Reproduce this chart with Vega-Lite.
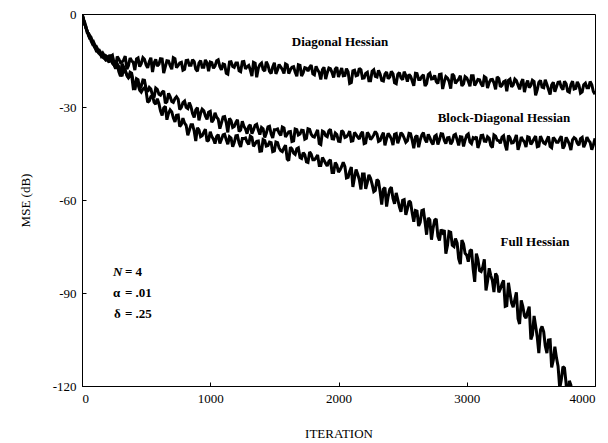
{
  "$schema": "https://vega.github.io/schema/vega-lite/v6.json",
  "width": 513,
  "height": 372,
  "autosize": {"type": "none"},
  "padding": {"left": 82, "top": 14, "right": 13, "bottom": 57},
  "background": "white",
  "config": {
    "font": "Liberation Serif",
    "view": {"stroke": "black", "strokeWidth": 1},
    "axis": {
      "grid": false,
      "domainColor": "black",
      "tickColor": "black",
      "labelColor": "black",
      "titleColor": "black",
      "labelFont": "Liberation Serif",
      "titleFont": "Liberation Serif",
      "labelFontSize": 13,
      "titleFontSize": 13,
      "titleFontWeight": "normal",
      "tickSize": -4,
      "labelPadding": 10
    }
  },
  "datasets": {
    "curves": [
      {"x":0,"D":0,"B":0,"F":0},
      {"x":10,"D":-1.6,"B":-1.2,"F":-1.9},
      {"x":20,"D":-2.8,"B":-3.4,"F":-2.5},
      {"x":30,"D":-4.6,"B":-3.9,"F":-4.2},
      {"x":40,"D":-5.3,"B":-6.0,"F":-5.6},
      {"x":50,"D":-6.9,"B":-6.2,"F":-6.6},
      {"x":60,"D":-7.6,"B":-6.9,"F":-7.9},
      {"x":70,"D":-7.5,"B":-8.6,"F":-8.0},
      {"x":80,"D":-8.6,"B":-9.5,"F":-9.1},
      {"x":90,"D":-10.1,"B":-9.0,"F":-9.6},
      {"x":100,"D":-10.8,"B":-10.0,"F":-10.6},
      {"x":112,"D":-10.5,"B":-11.6,"F":-11.9},
      {"x":125,"D":-11.6,"B":-12.3,"F":-11.9},
      {"x":137,"D":-12.9,"B":-11.8,"F":-12.4},
      {"x":150,"D":-13.3,"B":-12.7,"F":-13.6},
      {"x":162,"D":-12.6,"B":-14.0,"F":-13.0},
      {"x":175,"D":-13.5,"B":-14.4,"F":-13.9},
      {"x":187,"D":-14.8,"B":-13.5,"F":-14.9},
      {"x":200,"D":-14.6,"B":-13.9,"F":-14.8},
      {"x":225,"D":-13.7,"B":-13.6,"F":-13.6},
      {"x":250,"D":-16.0,"B":-16.5,"F":-16.5},
      {"x":275,"D":-13.7,"B":-16.1,"F":-16.3},
      {"x":300,"D":-15.7,"B":-20.1,"F":-19.2},
      {"x":325,"D":-14.8,"B":-17.0,"F":-17.4},
      {"x":350,"D":-17.8,"B":-19.5,"F":-19.9},
      {"x":375,"D":-14.2,"B":-18.8,"F":-19.9},
      {"x":400,"D":-15.6,"B":-22.0,"F":-24.0},
      {"x":425,"D":-14.5,"B":-20.9,"F":-21.4},
      {"x":450,"D":-17.0,"B":-24.2,"F":-24.6},
      {"x":475,"D":-14.1,"B":-21.3,"F":-24.2},
      {"x":500,"D":-16.4,"B":-24.1,"F":-24.9},
      {"x":525,"D":-15.3,"B":-23.7,"F":-28.0},
      {"x":550,"D":-18.7,"B":-26.3,"F":-26.3},
      {"x":575,"D":-14.6,"B":-23.9,"F":-29.1},
      {"x":600,"D":-16.2,"B":-25.9,"F":-28.9},
      {"x":625,"D":-14.5,"B":-25.2,"F":-32.7},
      {"x":650,"D":-17.0,"B":-28.8,"F":-29.8},
      {"x":675,"D":-15.2,"B":-25.6,"F":-32.0},
      {"x":700,"D":-17.8,"B":-28.2,"F":-31.6},
      {"x":725,"D":-14.4,"B":-27.3,"F":-34.8},
      {"x":750,"D":-16.6,"B":-27.5,"F":-32.6},
      {"x":775,"D":-15.6,"B":-30.1,"F":-35.6},
      {"x":800,"D":-17.8,"B":-28.1,"F":-35.2},
      {"x":825,"D":-14.9,"B":-30.5,"F":-39.1},
      {"x":850,"D":-16.5,"B":-30.0,"F":-35.7},
      {"x":875,"D":-15.4,"B":-33.4,"F":-37.8},
      {"x":900,"D":-18.5,"B":-30.2,"F":-36.7},
      {"x":925,"D":-15.0,"B":-32.0,"F":-39.6},
      {"x":950,"D":-17.2,"B":-31.2,"F":-38.1},
      {"x":975,"D":-15.8,"B":-34.0,"F":-41.1},
      {"x":1000,"D":-15.5,"B":-31.4,"F":-38.0},
      {"x":1025,"D":-17.5,"B":-34.1,"F":-40.4},
      {"x":1050,"D":-15.1,"B":-33.3,"F":-39.5},
      {"x":1075,"D":-17.0,"B":-37.0,"F":-41.8},
      {"x":1100,"D":-16.1,"B":-33.2,"F":-39.0},
      {"x":1125,"D":-19.1,"B":-35.1,"F":-40.6},
      {"x":1150,"D":-15.5,"B":-33.7,"F":-39.6},
      {"x":1175,"D":-16.9,"B":-36.6,"F":-42.8},
      {"x":1200,"D":-15.8,"B":-35.0,"F":-39.3},
      {"x":1225,"D":-18.3,"B":-37.9,"F":-41.6},
      {"x":1250,"D":-15.4,"B":-34.6,"F":-40.2},
      {"x":1275,"D":-17.7,"B":-37.1,"F":-40.0},
      {"x":1300,"D":-16.6,"B":-36.3,"F":-42.1},
      {"x":1325,"D":-20.0,"B":-38.6,"F":-39.8},
      {"x":1350,"D":-15.9,"B":-35.9,"F":-41.9},
      {"x":1375,"D":-17.5,"B":-37.5,"F":-41.0},
      {"x":1400,"D":-15.8,"B":-36.6,"F":-44.2},
      {"x":1425,"D":-18.4,"B":-39.8,"F":-40.8},
      {"x":1450,"D":-16.5,"B":-36.4,"F":-42.4},
      {"x":1475,"D":-19.2,"B":-38.7,"F":-41.5},
      {"x":1500,"D":-15.7,"B":-37.3,"F":-44.2},
      {"x":1525,"D":-18.0,"B":-37.1,"F":-41.5},
      {"x":1550,"D":-17.1,"B":-39.2,"F":-44.1},
      {"x":1575,"D":-19.2,"B":-36.8,"F":-43.2},
      {"x":1600,"D":-16.4,"B":-38.8,"F":-46.8},
      {"x":1625,"D":-18.0,"B":-37.9,"F":-43.0},
      {"x":1650,"D":-17.0,"B":-40.9,"F":-44.9},
      {"x":1675,"D":-20.1,"B":-37.3,"F":-43.5},
      {"x":1700,"D":-16.6,"B":-38.7,"F":-46.3},
      {"x":1725,"D":-18.9,"B":-37.6,"F":-44.7},
      {"x":1750,"D":-17.5,"B":-40.1,"F":-47.7},
      {"x":1775,"D":-17.2,"B":-37.2,"F":-44.5},
      {"x":1800,"D":-19.3,"B":-39.5,"F":-47.0},
      {"x":1825,"D":-16.9,"B":-38.5,"F":-46.4},
      {"x":1850,"D":-18.9,"B":-41.8,"F":-48.9},
      {"x":1875,"D":-17.9,"B":-37.8,"F":-46.3},
      {"x":1900,"D":-21.0,"B":-39.3,"F":-48.2},
      {"x":1925,"D":-17.4,"B":-37.7,"F":-47.5},
      {"x":1950,"D":-18.9,"B":-40.2,"F":-51.1},
      {"x":1975,"D":-17.7,"B":-38.4,"F":-47.9},
      {"x":2000,"D":-20.3,"B":-41.0,"F":-51.0},
      {"x":2025,"D":-17.4,"B":-37.6,"F":-49.2},
      {"x":2050,"D":-19.8,"B":-39.8,"F":-49.2},
      {"x":2075,"D":-18.7,"B":-38.9,"F":-52.7},
      {"x":2100,"D":-22.1,"B":-41.0,"F":-49.4},
      {"x":2125,"D":-18.1,"B":-38.2,"F":-52.7},
      {"x":2150,"D":-19.7,"B":-39.7,"F":-51.7},
      {"x":2175,"D":-18.0,"B":-38.7,"F":-56.6},
      {"x":2200,"D":-20.6,"B":-41.8,"F":-51.6},
      {"x":2225,"D":-18.8,"B":-38.2,"F":-54.3},
      {"x":2250,"D":-21.5,"B":-40.5,"F":-53.0},
      {"x":2275,"D":-18.0,"B":-39.0,"F":-57.3},
      {"x":2300,"D":-20.3,"B":-38.7,"F":-53.4},
      {"x":2325,"D":-19.4,"B":-40.8,"F":-57.5},
      {"x":2350,"D":-21.6,"B":-38.3,"F":-56.5},
      {"x":2375,"D":-18.7,"B":-40.2,"F":-62.1},
      {"x":2400,"D":-20.3,"B":-39.3,"F":-56.5},
      {"x":2425,"D":-19.3,"B":-42.3,"F":-59.5},
      {"x":2450,"D":-22.5,"B":-38.6,"F":-57.7},
      {"x":2475,"D":-18.9,"B":-40.1,"F":-62.2},
      {"x":2500,"D":-21.2,"B":-38.9,"F":-60.1},
      {"x":2525,"D":-19.8,"B":-41.4,"F":-64.8},
      {"x":2550,"D":-19.5,"B":-38.5,"F":-60.3},
      {"x":2575,"D":-21.6,"B":-40.8,"F":-64.3},
      {"x":2600,"D":-19.1,"B":-39.7,"F":-63.4},
      {"x":2625,"D":-21.1,"B":-43.0,"F":-68.4},
      {"x":2650,"D":-20.1,"B":-39.0,"F":-63.4},
      {"x":2675,"D":-23.2,"B":-40.5,"F":-67.2},
      {"x":2700,"D":-19.5,"B":-38.8,"F":-65.8},
      {"x":2725,"D":-21.0,"B":-41.3,"F":-72.8},
      {"x":2750,"D":-19.8,"B":-39.5,"F":-66.5},
      {"x":2775,"D":-22.4,"B":-42.1,"F":-71.7},
      {"x":2800,"D":-19.4,"B":-38.6,"F":-69.5},
      {"x":2825,"D":-21.8,"B":-40.8,"F":-69.7},
      {"x":2850,"D":-20.7,"B":-39.9,"F":-74.6},
      {"x":2875,"D":-24.1,"B":-42.0,"F":-70.4},
      {"x":2900,"D":-20.0,"B":-39.1,"F":-75.0},
      {"x":2925,"D":-21.6,"B":-40.6,"F":-73.9},
      {"x":2950,"D":-19.9,"B":-39.6,"F":-80.7},
      {"x":2975,"D":-22.5,"B":-42.7,"F":-74.2},
      {"x":3000,"D":-20.6,"B":-39.1,"F":-77.8},
      {"x":3025,"D":-23.3,"B":-41.3,"F":-76.4},
      {"x":3050,"D":-19.9,"B":-39.9,"F":-82.3},
      {"x":3075,"D":-22.1,"B":-39.6,"F":-77.3},
      {"x":3100,"D":-21.2,"B":-41.6,"F":-82.8},
      {"x":3125,"D":-23.4,"B":-39.1,"F":-81.6},
      {"x":3150,"D":-20.6,"B":-41.1,"F":-89.2},
      {"x":3175,"D":-22.1,"B":-40.1,"F":-82.0},
      {"x":3200,"D":-21.1,"B":-43.1,"F":-86.0},
      {"x":3225,"D":-24.3,"B":-39.4,"F":-83.7},
      {"x":3250,"D":-20.8,"B":-40.9,"F":-89.8},
      {"x":3275,"D":-23.0,"B":-39.7,"F":-87.0},
      {"x":3300,"D":-21.6,"B":-42.2,"F":-94.3},
      {"x":3325,"D":-21.4,"B":-39.2,"F":-86.7},
      {"x":3350,"D":-23.5,"B":-41.6,"F":-93.3},
      {"x":3375,"D":-21.0,"B":-40.5,"F":-92.0},
      {"x":3400,"D":-23.0,"B":-43.8,"F":-98.3},
      {"x":3425,"D":-22.1,"B":-39.7,"F":-92.4},
      {"x":3450,"D":-25.2,"B":-41.3,"F":-97.4},
      {"x":3475,"D":-21.5,"B":-39.6,"F":-96.0},
      {"x":3500,"D":-23.0,"B":-42.1,"F":-105.0},
      {"x":3525,"D":-21.8,"B":-40.2,"F":-97.4},
      {"x":3550,"D":-24.4,"B":-42.8,"F":-104.3},
      {"x":3575,"D":-21.4,"B":-39.4,"F":-101.9},
      {"x":3600,"D":-23.8,"B":-41.6,"F":-102.5},
      {"x":3625,"D":-22.7,"B":-40.6,"F":-109.4},
      {"x":3650,"D":-26.0,"B":-42.7,"F":-105.1},
      {"x":3675,"D":-22.0,"B":-39.8,"F":-111.6},
      {"x":3700,"D":-23.5,"B":-41.4,"F":-111.0},
      {"x":3725,"D":-21.9,"B":-40.3,"F":-120.7},
      {"x":3750,"D":-24.4,"B":-43.4,"F":-113.8},
      {"x":3775,"D":-22.5,"B":-39.8,"F":-119.3},
      {"x":3800,"D":-25.2,"B":-42.0,"F":-118.3},
      {"x":3825,"D":-21.7,"B":-40.6,"F":-126.5},
      {"x":3850,"D":-24.0,"B":-40.3,"F":-121.0},
      {"x":3875,"D":-23.0,"B":-42.3},
      {"x":3900,"D":-25.1,"B":-39.8},
      {"x":3925,"D":-22.3,"B":-41.7},
      {"x":3950,"D":-23.8,"B":-40.8},
      {"x":3975,"D":-22.8,"B":-43.8},
      {"x":4000,"D":-25.9,"B":-40.1},
      {"x":212,"D":-15.4,"B":-13.5,"F":-15.6},
      {"x":237,"D":-13.3,"B":-15.9,"F":-13.8},
      {"x":262,"D":-17.1,"B":-15.1,"F":-17.6},
      {"x":287,"D":-14.5,"B":-18.6,"F":-16.9},
      {"x":312,"D":-15.5,"B":-16.0,"F":-20.1},
      {"x":337,"D":-13.6,"B":-18.7,"F":-18.0},
      {"x":362,"D":-16.7,"B":-20.6,"F":-20.6},
      {"x":387,"D":-15.1,"B":-19.1,"F":-19.7},
      {"x":412,"D":-18.1,"B":-24.5,"F":-23.8},
      {"x":437,"D":-14.2,"B":-21.2,"F":-22.7},
      {"x":462,"D":-16.0,"B":-23.3,"F":-25.2},
      {"x":487,"D":-14.6,"B":-21.4,"F":-23.8},
      {"x":512,"D":-17.4,"B":-25.1,"F":-28.5},
      {"x":537,"D":-14.1,"B":-24.2,"F":-26.6},
      {"x":562,"D":-15.8,"B":-26.9,"F":-28.5},
      {"x":587,"D":-16.8,"B":-24.3,"F":-27.3},
      {"x":612,"D":-14.4,"B":-26.2,"F":-31.2},
      {"x":637,"D":-19.1,"B":-24.8,"F":-30.3},
      {"x":662,"D":-15.1,"B":-28.3,"F":-34.1},
      {"x":687,"D":-16.6,"B":-26.6,"F":-30.9},
      {"x":712,"D":-14.1,"B":-28.5,"F":-33.5},
      {"x":737,"D":-17.3,"B":-26.7,"F":-32.7},
      {"x":762,"D":-15.8,"B":-30.8,"F":-36.3},
      {"x":787,"D":-18.1,"B":-28.6,"F":-33.6},
      {"x":812,"D":-15.0,"B":-30.1,"F":-35.9},
      {"x":837,"D":-16.5,"B":-28.6,"F":-37.5},
      {"x":862,"D":-14.7,"B":-32.1,"F":-35.7},
      {"x":887,"D":-17.8,"B":-30.9,"F":-41.0},
      {"x":912,"D":-15.8,"B":-34.3,"F":-37.4},
      {"x":937,"D":-17.2,"B":-30.7,"F":-39.3},
      {"x":962,"D":-14.8,"B":-32.9,"F":-37.2},
      {"x":987,"D":-18.5,"B":-31.7,"F":-40.7},
      {"x":1012,"D":-15.7,"B":-34.9,"F":-39.5},
      {"x":1037,"D":-16.8,"B":-31.9,"F":-41.8},
      {"x":1062,"D":-14.8,"B":-33.9,"F":-38.9},
      {"x":1087,"D":-18.0,"B":-35.2,"F":-40.5},
      {"x":1112,"D":-16.3,"B":-33.1,"F":-38.8},
      {"x":1137,"D":-19.4,"B":-38.2,"F":-42.0},
      {"x":1162,"D":-15.4,"B":-34.4,"F":-40.0},
      {"x":1187,"D":-17.2,"B":-36.3,"F":-41.5},
      {"x":1212,"D":-15.8,"B":-34.1,"F":-39.2},
      {"x":1237,"D":-18.6,"B":-37.4,"F":-42.9},
      {"x":1262,"D":-15.3,"B":-36.2,"F":-40.2},
      {"x":1287,"D":-17.0,"B":-38.6,"F":-41.3},
      {"x":1312,"D":-18.0,"B":-35.7,"F":-39.4},
      {"x":1337,"D":-15.6,"B":-37.4,"F":-42.7},
      {"x":1362,"D":-20.4,"B":-35.6,"F":-41.1},
      {"x":1387,"D":-16.3,"B":-38.9,"F":-44.3},
      {"x":1412,"D":-17.9,"B":-37.0,"F":-40.5},
      {"x":1437,"D":-15.4,"B":-38.5,"F":-42.6},
      {"x":1462,"D":-18.5,"B":-36.2,"F":-41.3},
      {"x":1487,"D":-17.1,"B":-40.0,"F":-44.4},
      {"x":1512,"D":-19.3,"B":-37.3,"F":-41.3},
      {"x":1537,"D":-16.3,"B":-38.4,"F":-43.2},
      {"x":1562,"D":-17.9,"B":-36.5,"F":-44.4},
      {"x":1587,"D":-16.1,"B":-39.7,"F":-42.3},
      {"x":1612,"D":-19.2,"B":-38.0,"F":-47.3},
      {"x":1637,"D":-17.2,"B":-41.1,"F":-43.5},
      {"x":1662,"D":-18.7,"B":-37.1,"F":-45.3},
      {"x":1687,"D":-16.4,"B":-39.0,"F":-43.2},
      {"x":1712,"D":-20.0,"B":-37.5,"F":-46.6},
      {"x":1737,"D":-17.3,"B":-40.4,"F":-45.4},
      {"x":1762,"D":-18.4,"B":-37.0,"F":-47.9},
      {"x":1787,"D":-16.5,"B":-38.8,"F":-45.2},
      {"x":1812,"D":-19.6,"B":-39.7,"F":-47.0},
      {"x":1837,"D":-18.0,"B":-37.4,"F":-45.5},
      {"x":1862,"D":-21.1,"B":-42.1,"F":-48.9},
      {"x":1887,"D":-17.2,"B":-38.1,"F":-47.2},
      {"x":1912,"D":-19.0,"B":-39.6,"F":-49.0},
      {"x":1937,"D":-17.6,"B":-37.2,"F":-47.0},
      {"x":1962,"D":-20.5,"B":-40.3,"F":-51.1},
      {"x":1987,"D":-17.2,"B":-38.9,"F":-48.7},
      {"x":2012,"D":-18.9,"B":-41.1,"F":-50.3},
      {"x":2037,"D":-19.9,"B":-38.1,"F":-47.8},
      {"x":2062,"D":-17.6,"B":-39.6,"F":-52.9},
      {"x":2087,"D":-22.4,"B":-37.8,"F":-50.8},
      {"x":2112,"D":-18.3,"B":-40.9,"F":-55.8},
      {"x":2137,"D":-19.9,"B":-38.9,"F":-50.2},
      {"x":2162,"D":-17.5,"B":-40.3,"F":-53.4},
      {"x":2187,"D":-20.7,"B":-38.0,"F":-51.6},
      {"x":2212,"D":-19.2,"B":-41.6,"F":-56.4},
      {"x":2237,"D":-21.5,"B":-38.9,"F":-51.9},
      {"x":2262,"D":-18.5,"B":-39.9,"F":-54.9},
      {"x":2287,"D":-20.1,"B":-37.9,"F":-56.9},
      {"x":2312,"D":-18.2,"B":-41.1,"F":-53.9},
      {"x":2337,"D":-21.4,"B":-39.4,"F":-61.5},
      {"x":2362,"D":-19.4,"B":-42.4,"F":-56.0},
      {"x":2387,"D":-20.9,"B":-38.5,"F":-58.9},
      {"x":2412,"D":-18.5,"B":-40.3,"F":-55.9},
      {"x":2437,"D":-22.2,"B":-38.8,"F":-61.2},
      {"x":2462,"D":-19.5,"B":-41.7,"F":-59.8},
      {"x":2487,"D":-20.6,"B":-38.3,"F":-63.8},
      {"x":2512,"D":-18.6,"B":-40.0,"F":-59.9},
      {"x":2537,"D":-21.8,"B":-40.9,"F":-62.9},
      {"x":2562,"D":-20.1,"B":-38.6,"F":-60.8},
      {"x":2587,"D":-23.2,"B":-43.3,"F":-67.0},
      {"x":2612,"D":-19.2,"B":-39.2,"F":-63.6},
      {"x":2637,"D":-21.1,"B":-40.7,"F":-67.2},
      {"x":2662,"D":-19.6,"B":-38.3,"F":-63.2},
      {"x":2687,"D":-22.5,"B":-41.4,"F":-71.2},
      {"x":2712,"D":-19.1,"B":-39.9,"F":-66.4},
      {"x":2737,"D":-20.9,"B":-42.1,"F":-69.2},
      {"x":2762,"D":-21.8,"B":-39.1,"F":-66.1},
      {"x":2787,"D":-19.5,"B":-40.6,"F":-73.1},
      {"x":2812,"D":-24.2,"B":-38.7,"F":-70.5},
      {"x":2837,"D":-20.2,"B":-41.8,"F":-77.3},
      {"x":2862,"D":-21.7,"B":-39.8,"F":-70.2},
      {"x":2887,"D":-19.3,"B":-41.2,"F":-74.6},
      {"x":2912,"D":-22.4,"B":-38.8,"F":-72.4},
      {"x":2937,"D":-21.0,"B":-42.4,"F":-78.9},
      {"x":2962,"D":-23.2,"B":-39.7,"F":-72.9},
      {"x":2987,"D":-20.2,"B":-40.7,"F":-77.2},
      {"x":3012,"D":-21.7,"B":-38.7,"F":-79.9},
      {"x":3037,"D":-19.9,"B":-41.8,"F":-76.0},
      {"x":3062,"D":-23.1,"B":-40.2,"F":-86.4},
      {"x":3087,"D":-21.1,"B":-43.2,"F":-79.1},
      {"x":3112,"D":-22.5,"B":-39.2,"F":-83.1},
      {"x":3137,"D":-20.2,"B":-41.0,"F":-79.1},
      {"x":3162,"D":-23.9,"B":-39.6,"F":-86.3},
      {"x":3187,"D":-21.2,"B":-42.4,"F":-84.3},
      {"x":3212,"D":-22.2,"B":-39.0,"F":-89.7},
      {"x":3237,"D":-20.3,"B":-40.7,"F":-84.6},
      {"x":3262,"D":-23.5,"B":-41.7,"F":-88.7},
      {"x":3287,"D":-21.9,"B":-39.3,"F":-85.9},
      {"x":3312,"D":-24.9,"B":-44.0,"F":-94.1},
      {"x":3337,"D":-21.0,"B":-39.9,"F":-90.0},
      {"x":3362,"D":-22.9,"B":-41.5,"F":-94.6},
      {"x":3387,"D":-21.5,"B":-39.0,"F":-89.8},
      {"x":3412,"D":-24.3,"B":-42.1,"F":-100.0},
      {"x":3437,"D":-21.0,"B":-40.6,"F":-94.3},
      {"x":3462,"D":-22.8,"B":-42.9,"F":-98.1},
      {"x":3487,"D":-23.8,"B":-39.8,"F":-94.4},
      {"x":3512,"D":-21.4,"B":-41.3,"F":-103.5},
      {"x":3537,"D":-26.2,"B":-39.4,"F":-100.6},
      {"x":3562,"D":-22.1,"B":-42.6,"F":-109.4},
      {"x":3587,"D":-23.6,"B":-40.5,"F":-100.8},
      {"x":3612,"D":-21.2,"B":-41.9,"F":-107.0},
      {"x":3637,"D":-24.3,"B":-39.5,"F":-105.2},
      {"x":3662,"D":-22.9,"B":-43.1,"F":-114.0},
      {"x":3687,"D":-25.1,"B":-40.4,"F":-107.3},
      {"x":3712,"D":-22.0,"B":-41.4,"F":-113.6},
      {"x":3737,"D":-23.6,"B":-39.4,"F":-118.1},
      {"x":3762,"D":-21.7,"B":-42.5,"F":-114.2},
      {"x":3787,"D":-24.9,"B":-40.8,"F":-128.0},
      {"x":3812,"D":-22.8,"B":-43.9,"F":-119.7},
      {"x":3837,"D":-24.2,"B":-39.9,"F":-125.5},
      {"x":3862,"D":-21.9,"B":-41.7},
      {"x":3887,"D":-25.5,"B":-40.2},
      {"x":3912,"D":-22.8,"B":-43.0},
      {"x":3937,"D":-23.8,"B":-39.7},
      {"x":3962,"D":-21.8,"B":-41.4},
      {"x":3987,"D":-25.0,"B":-42.3}
    ],
    "labels": [
      {"x": 2012, "y": -9.0, "t": "Diagonal Hessian"},
      {"x": 3290, "y": -33.5, "t": "Block-Diagonal Hessian"},
      {"x": 3532, "y": -73.5, "t": "Full Hessian"}
    ],
    "sym": [
      {"x": 242, "y": -83.2, "t": "N", "k": "italic"},
      {"x": 242, "y": -90.0, "t": "α", "k": "normal"},
      {"x": 250, "y": -96.8, "t": "δ", "k": "normal"}
    ],
    "vals": [
      {"x": 335, "y": -83.2, "t": "= 4"},
      {"x": 335, "y": -90.0, "t": "= .01"},
      {"x": 335, "y": -96.8, "t": "= .25"}
    ]
  },
  "encoding": {
    "x": {
      "field": "x",
      "type": "quantitative",
      "title": "ITERATION",
      "scale": {"domain": [0, 4000], "nice": false},
      "axis": {"values": [0, 1000, 2000, 3000, 4000], "labelExpr": "'' + datum.value", "titlePadding": 22}
    },
    "y": {
      "field": "y",
      "type": "quantitative",
      "title": "MSE (dB)",
      "scale": {"domain": [-120, 0], "nice": false, "zero": false},
      "axis": {"values": [-120, -90, -60, -30, 0], "labelExpr": "'' + datum.value", "titlePadding": 20}
    }
  },
  "layer": [
    {
      "data": {"name": "curves"},
      "transform": [{"fold": ["D", "B", "F"], "as": ["s", "y"]}],
      "mark": {"type": "line", "color": "black", "strokeWidth": 3, "strokeJoin": "miter", "strokeMiterLimit": 2, "clip": true},
      "encoding": {"detail": {"field": "s", "type": "nominal"}}
    },
    {
      "data": {"name": "labels"},
      "mark": {"type": "text", "font": "Liberation Serif", "fontSize": 13, "fontWeight": "bold", "color": "black", "align": "center", "baseline": "middle"},
      "encoding": {"text": {"field": "t"}}
    },
    {
      "data": {"name": "sym"},
      "transform": [{"filter": "datum.k == 'italic'"}],
      "mark": {"type": "text", "font": "Liberation Serif", "fontSize": 13, "fontStyle": "italic", "fontWeight": "bold", "color": "black", "align": "left", "baseline": "middle"},
      "encoding": {"text": {"field": "t"}}
    },
    {
      "data": {"name": "sym"},
      "transform": [{"filter": "datum.k == 'normal'"}],
      "mark": {"type": "text", "font": "Liberation Serif", "fontSize": 13, "fontWeight": "bold", "color": "black", "align": "left", "baseline": "middle"},
      "encoding": {"text": {"field": "t"}}
    },
    {
      "data": {"name": "vals"},
      "mark": {"type": "text", "font": "Liberation Serif", "fontSize": 13, "fontWeight": "bold", "color": "black", "align": "left", "baseline": "middle"},
      "encoding": {"text": {"field": "t"}}
    }
  ]
}
